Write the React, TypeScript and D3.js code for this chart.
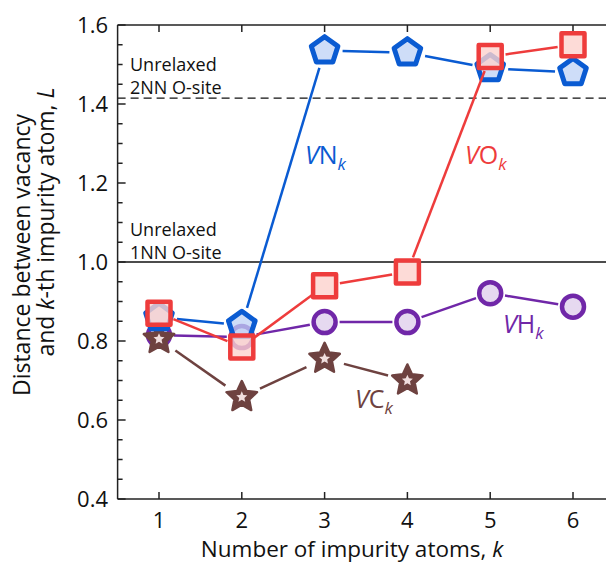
import React, { useEffect, useRef } from "react";
import * as d3 from "d3";

// k values and distances L
const kAll = [1, 2, 3, 4, 5, 6];
const kVC = [1, 2, 3, 4];
const vnValues = [0.86, 0.84, 1.535, 1.53, 1.49, 1.48];
const voValues = [0.87, 0.785, 0.94, 0.975, 1.52, 1.55];
const vhValues = [0.815, 0.81, 0.848, 0.848, 0.921, 0.887];
const vcValues = [0.805, 0.658, 0.755, 0.7];

const xTicks = [1, 2, 3, 4, 5, 6];
const yTicks = [0.4, 0.6, 0.8, 1.0, 1.2, 1.4, 1.6];
const oneNN = 1.0;
const twoNN = 1.415;

const FONT = "'Open Sans', 'DejaVu Sans', sans-serif";

const polygon = (n, R, rot = -Math.PI / 2) =>
  d3.range(n).map((i) => [R * Math.cos(rot + (2 * Math.PI * i) / n), R * Math.sin(rot + (2 * Math.PI * i) / n)]);

const starPts = (R, r) =>
  d3.range(10).map((i) => {
    const a = -Math.PI / 2 + (Math.PI * i) / 5;
    const rr = i % 2 === 0 ? R : r;
    return [rr * Math.cos(a), rr * Math.sin(a)];
  });

const toPath = (pts) => "M" + pts.map((p) => p.join(",")).join("L") + "Z";

const App = () => {
  const svgRef = useRef();

  useEffect(() => {
    document.body.style.margin = "0";
    const width = 606;
    const height = 565;
    const x = d3.scaleLinear().domain([0.5, 6.5]).range([117.6, 614.4]);
    const y = d3.scaleLinear().domain([0.4, 1.6]).range([499, 25]);

    const svg = d3.select(svgRef.current).attr("width", width).attr("height", height);
    svg.selectAll("*").remove();
    svg.append("rect").attr("width", width).attr("height", height).attr("fill", "#fff");

    const left = x(0.5);
    const right = width;
    const top = y(1.6);
    const bottom = y(0.4);

    // reference lines
    svg.append("line").attr("x1", left).attr("x2", right).attr("y1", y(oneNN)).attr("y2", y(oneNN))
      .attr("stroke", "#111").attr("stroke-width", 1.5);
    svg.append("line").attr("x1", left).attr("x2", right).attr("y1", y(twoNN)).attr("y2", y(twoNN))
      .attr("stroke", "#111").attr("stroke-width", 1.3).attr("stroke-dasharray", "8,5");

    const note = (lines, y0) => {
      lines.forEach((s, i) =>
        svg.append("text").attr("x", 130).attr("y", y0 + i * 22.5)
          .attr("font-family", FONT).attr("font-size", 18).attr("fill", "#111").text(s));
    };
    note(["Unrelaxed", "2NN O-site"], 71);
    note(["Unrelaxed", "1NN O-site"], 236);

    // axes frame
    const ax = svg.append("g").attr("stroke", "#222").attr("stroke-width", 1.5);
    ax.append("line").attr("x1", left).attr("x2", right).attr("y1", top).attr("y2", top);
    ax.append("line").attr("x1", left).attr("x2", right).attr("y1", bottom).attr("y2", bottom);
    ax.append("line").attr("x1", left).attr("x2", left).attr("y1", top).attr("y2", bottom);

    xTicks.forEach((k) => {
      ax.append("line").attr("x1", x(k)).attr("x2", x(k)).attr("y1", bottom).attr("y2", bottom - 7);
      ax.append("line").attr("x1", x(k)).attr("x2", x(k)).attr("y1", top).attr("y2", top + 7);
    });
    const minor = d3.range(0.4, 1.6001, 0.05);
    minor.forEach((v) => {
      const major = yTicks.some((t) => Math.abs(t - v) < 1e-6);
      ax.append("line").attr("x1", left).attr("x2", left + (major ? 8 : 5)).attr("y1", y(v)).attr("y2", y(v));
    });

    svg.append("g").selectAll("text").data(xTicks).join("text")
      .attr("x", (d) => x(d)).attr("y", 528).attr("text-anchor", "middle")
      .attr("font-family", FONT).attr("font-size", 22).attr("fill", "#111").text((d) => d);
    svg.append("g").selectAll("text").data(yTicks).join("text")
      .attr("x", 108).attr("y", (d) => y(d) + 8).attr("text-anchor", "end")
      .attr("font-family", FONT).attr("font-size", 22).attr("fill", "#111").text((d) => d3.format(".1f")(d));

    const xt = svg.append("text").attr("x", 352).attr("y", 557).attr("text-anchor", "middle")
      .attr("font-family", FONT).attr("font-size", 22.5).attr("fill", "#111");
    xt.append("tspan").text("Number of impurity atoms, ");
    xt.append("tspan").attr("font-style", "italic").text("k");

    const yt1 = svg.append("text").attr("transform", "translate(30,255) rotate(-90)").attr("text-anchor", "middle")
      .attr("font-family", FONT).attr("font-size", 23).attr("fill", "#111");
    yt1.append("tspan").text("Distance between vacancy");
    const yt2 = svg.append("text").attr("transform", "translate(54,222) rotate(-90)").attr("text-anchor", "middle")
      .attr("font-family", FONT).attr("font-size", 23).attr("fill", "#111");
    yt2.append("tspan").text("and ");
    yt2.append("tspan").attr("font-style", "italic").text("k");
    yt2.append("tspan").text("-th impurity atom, ");
    yt2.append("tspan").attr("font-style", "italic").text("L");

    const series = [
      { name: "H", ks: kAll, values: vhValues, color: "#7027a8", fill: "#e6d9f0", marker: "circle", r: 11, lx: 503, ly: 333 },
      { name: "C", ks: kVC, values: vcValues, color: "#6e4240", fill: "#f0dede", marker: "star", r: 16, lx: 355, ly: 408 },
      { name: "N", ks: kAll, values: vnValues, color: "#0a5bd2", fill: "rgba(190,210,245,0.75)", marker: "pentagon", r: 14, lx: 305, ly: 164 },
      { name: "O", ks: kAll, values: voValues, color: "#ee3c3c", fill: "rgba(252,210,205,0.8)", marker: "square", r: 11.5, lx: 465, ly: 164 },
    ];

    series.forEach((s) => {
      const pts = s.ks.map((k, i) => [x(k), y(s.values[i])]);
      const g = svg.append("g");
      const gap = s.r + 4;
      d3.pairs(pts).forEach(([a, b]) => {
        const dx = b[0] - a[0];
        const dy = b[1] - a[1];
        const len = Math.hypot(dx, dy);
        if (len <= gap * 2) return;
        const ux = dx / len;
        const uy = dy / len;
        g.append("line")
          .attr("x1", a[0] + ux * gap).attr("y1", a[1] + uy * gap)
          .attr("x2", b[0] - ux * gap).attr("y2", b[1] - uy * gap)
          .attr("stroke", s.color).attr("stroke-width", 2.5);
      });
      pts.forEach(([px, py]) => {
        const m = g.append("g").attr("transform", `translate(${px},${py})`);
        if (s.marker === "circle") {
          m.append("circle").attr("r", s.r).attr("fill", s.fill).attr("stroke", s.color).attr("stroke-width", 4.5);
        } else if (s.marker === "square") {
          m.append("rect").attr("x", -s.r).attr("y", -s.r).attr("width", 2 * s.r).attr("height", 2 * s.r)
            .attr("fill", s.fill).attr("stroke", s.color).attr("stroke-width", 4.5).attr("stroke-linejoin", "round");
        } else if (s.marker === "pentagon") {
          m.append("path").attr("d", toPath(polygon(5, s.r))).attr("fill", s.fill)
            .attr("stroke", s.color).attr("stroke-width", 5).attr("stroke-linejoin", "round");
        } else {
          m.append("path").attr("d", toPath(starPts(s.r, s.r * 0.48))).attr("fill", s.color)
            .attr("stroke", s.color).attr("stroke-width", 2.5).attr("stroke-linejoin", "round");
          m.append("path").attr("d", toPath(starPts(s.r * 0.36, s.r * 0.17))).attr("fill", s.fill);
        }
      });
      const lab = svg.append("text").attr("x", s.lx).attr("y", s.ly)
        .attr("font-family", FONT).attr("font-size", 25).attr("fill", s.color);
      lab.append("tspan").attr("font-style", "italic").text("V");
      lab.append("tspan").text(s.name);
      lab.append("tspan").attr("font-style", "italic").attr("font-size", 17).attr("dy", 6).text("k");
    });
  }, []);

  return <svg ref={svgRef} style={{ display: "block" }}></svg>;
};

export default App;
